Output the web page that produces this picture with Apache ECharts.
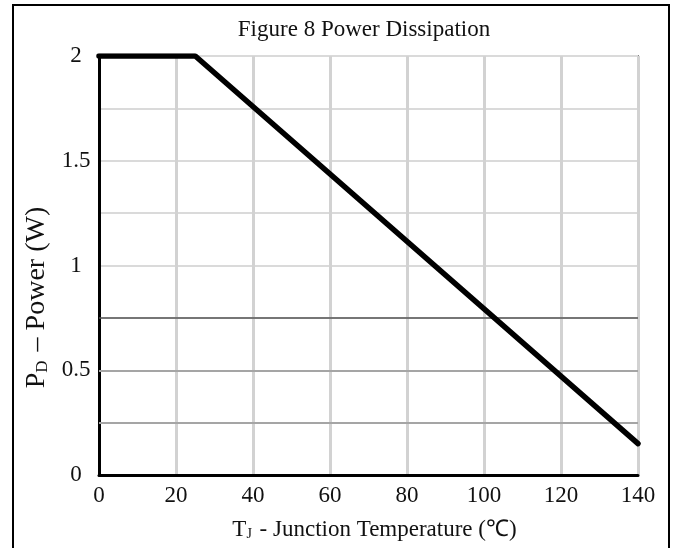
<!DOCTYPE html>
<html>
<head>
<meta charset="utf-8">
<script src="https://cdn.jsdelivr.net/npm/echarts@6/dist/echarts.min.js"></script>
<style>html,body{margin:0;padding:0;background:#fff;}#c{width:675px;height:548px;}</style>
</head>
<body>
<div id="c"></div>
<script>
// Data
var temperatures = [0, 25, 140];
var powers = [2, 2, 0.15];
var referenceLevel = [0.75];
var mediumGridLevels = [0.25, 0.5];
var yTickLabels = ['0', '0.5', '1', '1.5', '2'];
var xTickLabels = ['0', '20', '40', '60', '80', '100', '120', '140'];

var chart = echarts.init(document.getElementById('c'), null, {renderer: 'canvas'});
var font = '"Liberation Serif","Times New Roman",serif';
var seriesData = temperatures.map(function (t, i) { return [t, powers[i]]; });

chart.setOption({
  animation: false,
  backgroundColor: '#fff',
  title: {
    text: 'Figure 8 Power Dissipation',
    left: 359, top: 13, textAlign: 'center',
    textStyle: {fontFamily: font, fontSize: 23, fontWeight: 'normal', color: '#111'}
  },
  graphic: [{
    type: 'rect', silent: true, z: 0,
    shape: {x: 13, y: 5, width: 656, height: 560},
    style: {fill: 'none', stroke: '#000', lineWidth: 2}
  }],
  grid: {
    left: 99, top: 56, right: 37, bottom: 73,
    show: true, borderColor: '#858585', borderWidth: 2, backgroundColor: 'transparent'
  },
  xAxis: {
    type: 'value', min: 0, max: 140, interval: 20,
    name: '{t|T}{s|J}{t| - Junction Temperature (℃)}',
    nameLocation: 'middle', nameGap: 39,
    nameTextStyle: {
      padding: [0, 0, 0, 12],
      rich: {
        t: {fontFamily: font, fontSize: 23, color: '#111', lineHeight: 27, verticalAlign: 'bottom'},
        s: {fontFamily: font, fontSize: 14, color: '#111', lineHeight: 14, verticalAlign: 'bottom', padding: [0, 2, 0, 0]}
      }
    },
    axisLine: {show: true, lineStyle: {color: '#000', width: 3}},
    axisTick: {show: false},
    axisLabel: {
      fontFamily: font, fontSize: 23, color: '#111', margin: 9,
      formatter: function (v) { var i = Math.round(v / 20); return xTickLabels[i] !== undefined ? xTickLabels[i] : ''; }
    },
    splitLine: {show: true, lineStyle: {color: '#d2d2d2', width: 3}}
  },
  yAxis: {
    type: 'value', min: 0, max: 2, interval: 0.25,
    name: '{t|P}{s|D}{t| – Power (W)}',
    nameLocation: 'middle', nameGap: 46, nameRotate: 90,
    nameTextStyle: {
      padding: [0, 64, 0, 0],
      rich: {
        t: {fontFamily: font, fontSize: 28, color: '#111', lineHeight: 32, verticalAlign: 'bottom'},
        s: {fontFamily: font, fontSize: 17, color: '#111', lineHeight: 17, verticalAlign: 'bottom', padding: [0, 2, 0, 0]}
      }
    },
    axisLine: {show: true, lineStyle: {color: '#000', width: 3}},
    axisTick: {show: false},
    axisLabel: {
      fontFamily: font, fontSize: 23, color: '#111', margin: 23, align: 'center',
      padding: [8, 0, 0, 0],
      formatter: function (v) {
        var k = Math.round(v * 2);
        if (Math.abs(v * 2 - k) > 1e-6) return '';
        return yTickLabels[k] !== undefined ? yTickLabels[k] : '';
      }
    },
    splitLine: {show: true, lineStyle: {color: '#dadada', width: 2}}
  },
  series: [{
    type: 'line',
    data: seriesData,
    symbol: 'none',
    lineStyle: {color: '#000', width: 5.5, cap: 'round'},
    z: 5,
    markLine: {
      silent: true, symbol: 'none',
      label: {show: false},
      data: referenceLevel.map(function (v) {
        return {yAxis: v, lineStyle: {color: '#555', width: 1.5, type: 'solid'}};
      }).concat(mediumGridLevels.map(function (v) {
        return {yAxis: v, lineStyle: {color: '#a5a5a5', width: 2, type: 'solid'}};
      }))
    }
  }]
});
</script>
</body>
</html>
